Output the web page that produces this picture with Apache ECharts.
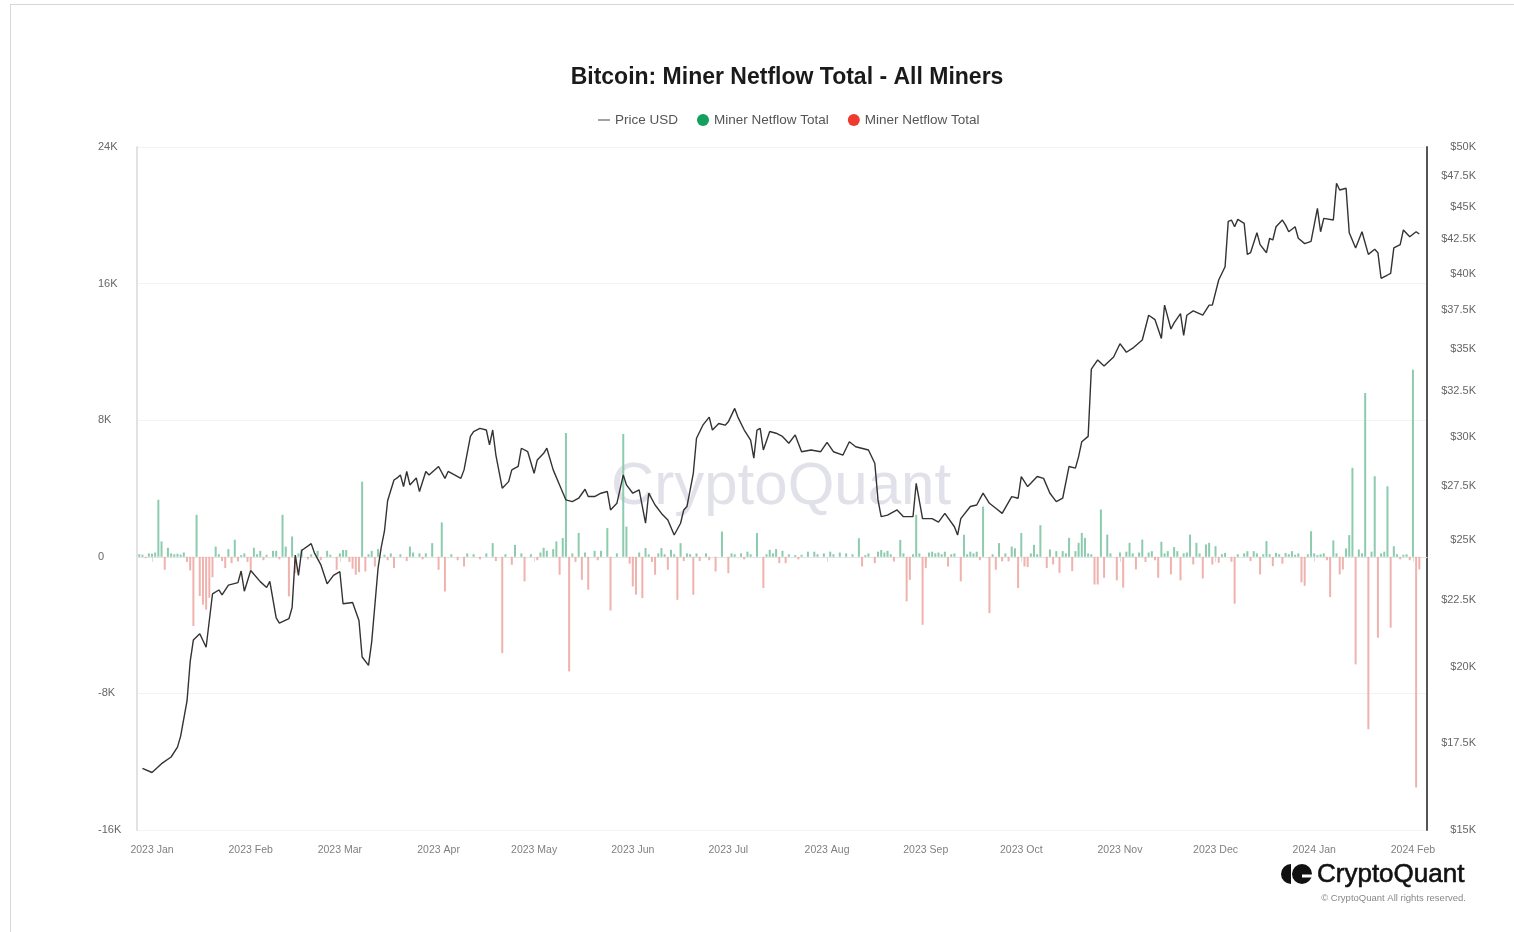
<!DOCTYPE html>
<html>
<head>
<meta charset="utf-8">
<title>Bitcoin: Miner Netflow Total - All Miners</title>
<script src="https://cdn.jsdelivr.net/npm/echarts@6.0.0/dist/echarts.min.js"></script>
<style>
  html, body { margin: 0; padding: 0; background: #fff; overflow: hidden; }
  #frame { position: absolute; left: 10px; top: 4px; width: 1520px; height: 940px; border: 1px solid #d6d6d6; box-sizing: border-box; }
  #chart { position: absolute; left: 0; top: 0; width: 1514px; height: 932px; }
</style>
</head>
<body>
<div id="frame"></div>
<div id="chart"></div>
<script>
// month ticks on the bottom axis
const monthTicks = ['2023-01-01', '2023-02-01', '2023-03-01', '2023-04-01', '2023-05-01', '2023-06-01',
  '2023-07-01', '2023-08-01', '2023-09-01', '2023-10-01', '2023-11-01', '2023-12-01', '2024-01-01', '2024-02-01'];
const monthNames = ['Jan', 'Feb', 'Mar', 'Apr', 'May', 'Jun', 'Jul', 'Aug', 'Sep', 'Oct', 'Nov', 'Dec'];

// right axis (log) labels
const priceTicks = [15000, 17500, 20000, 22500, 25000, 27500, 30000, 32500, 35000, 37500, 40000, 42500, 45000, 47500, 50000];

// BTC price (USD)
const price = [
  ['2022-12-29', 16720], ['2023-01-01', 16600], ['2023-01-04', 16860], ['2023-01-07', 17060],
  ['2023-01-09', 17360], ['2023-01-10', 17700], ['2023-01-12', 18830], ['2023-01-13', 20190],
  ['2023-01-14', 20970], ['2023-01-16', 21200], ['2023-01-18', 20700], ['2023-01-20', 22740],
  ['2023-01-22', 22900], ['2023-01-23', 22700], ['2023-01-25', 23100], ['2023-01-28', 23200],
  ['2023-01-29', 23680], ['2023-01-30', 22850], ['2023-02-01', 23700], ['2023-02-04', 23240],
  ['2023-02-06', 23000], ['2023-02-07', 23250], ['2023-02-09', 21800], ['2023-02-10', 21600],
  ['2023-02-13', 21770], ['2023-02-14', 22200], ['2023-02-15', 24350], ['2023-02-16', 23500],
  ['2023-02-17', 24550], ['2023-02-20', 24850], ['2023-02-21', 24450], ['2023-02-23', 23950],
  ['2023-02-25', 23150], ['2023-02-27', 23500], ['2023-03-01', 23650], ['2023-03-02', 22350],
  ['2023-03-05', 22400], ['2023-03-07', 21700], ['2023-03-08', 20350], ['2023-03-10', 20050],
  ['2023-03-11', 20900], ['2023-03-12', 22300], ['2023-03-13', 23800], ['2023-03-14', 24700],
  ['2023-03-15', 25400], ['2023-03-16', 26800], ['2023-03-17', 27300], ['2023-03-18', 27800],
  ['2023-03-19', 27900], ['2023-03-20', 28050], ['2023-03-21', 27480], ['2023-03-22', 28220],
  ['2023-03-23', 27560], ['2023-03-25', 27900], ['2023-03-26', 27240], ['2023-03-28', 28220],
  ['2023-03-29', 28050], ['2023-04-01', 28470], ['2023-04-03', 27880], ['2023-04-04', 28220],
  ['2023-04-08', 27880], ['2023-04-09', 28300], ['2023-04-11', 30020], ['2023-04-12', 30280],
  ['2023-04-14', 30450], ['2023-04-16', 30360], ['2023-04-17', 29570], ['2023-04-18', 30360],
  ['2023-04-19', 29050], ['2023-04-21', 27400], ['2023-04-23', 27720], ['2023-04-24', 28300],
  ['2023-04-26', 28470], ['2023-04-27', 29400], ['2023-04-29', 29220], ['2023-05-01', 28130],
  ['2023-05-02', 28800], ['2023-05-04', 29140], ['2023-05-05', 29400], ['2023-05-07', 28300],
  ['2023-05-09', 27560], ['2023-05-11', 26840], ['2023-05-13', 26760], ['2023-05-15', 26920],
  ['2023-05-17', 27350], ['2023-05-18', 27000], ['2023-05-20', 27000], ['2023-05-22', 27160],
  ['2023-05-24', 27240], ['2023-05-25', 26370], ['2023-05-27', 26680], ['2023-05-29', 28050],
  ['2023-05-30', 27560], ['2023-06-01', 27160], ['2023-06-03', 27320], ['2023-06-05', 25760],
  ['2023-06-06', 27160], ['2023-06-08', 26600], ['2023-06-10', 26210], ['2023-06-12', 25910],
  ['2023-06-14', 25230], ['2023-06-16', 25760], ['2023-06-17', 26370], ['2023-06-18', 26530],
  ['2023-06-20', 28130], ['2023-06-21', 29920], ['2023-06-23', 30620], ['2023-06-25', 31060],
  ['2023-06-26', 30360], ['2023-06-28', 30710], ['2023-06-30', 30620], ['2023-07-01', 30800],
  ['2023-07-03', 31540], ['2023-07-04', 31060], ['2023-07-06', 30360], ['2023-07-08', 29830],
  ['2023-07-09', 28890], ['2023-07-10', 30360], ['2023-07-11', 30450], ['2023-07-12', 29310],
  ['2023-07-14', 30280], ['2023-07-16', 30190], ['2023-07-18', 30020], ['2023-07-20', 29660],
  ['2023-07-22', 30100], ['2023-07-24', 29220], ['2023-07-27', 29310], ['2023-07-30', 29220],
  ['2023-08-01', 29710], ['2023-08-03', 29220], ['2023-08-06', 29050], ['2023-08-08', 29740],
  ['2023-08-10', 29480], ['2023-08-14', 29310], ['2023-08-16', 28630], ['2023-08-17', 26840],
  ['2023-08-18', 26060], ['2023-08-20', 26130], ['2023-08-23', 26370], ['2023-08-25', 26060],
  ['2023-08-28', 26060], ['2023-08-29', 27640], ['2023-08-31', 25970], ['2023-09-03', 25970],
  ['2023-09-05', 25810], ['2023-09-07', 26210], ['2023-09-10', 25600], ['2023-09-11', 25230],
  ['2023-09-12', 25970], ['2023-09-15', 26530], ['2023-09-17', 26600], ['2023-09-19', 27160],
  ['2023-09-21', 26680], ['2023-09-23', 26450], ['2023-09-25', 26210], ['2023-09-28', 27000],
  ['2023-09-30', 26920], ['2023-10-01', 27970], ['2023-10-03', 27480], ['2023-10-04', 27640],
  ['2023-10-06', 27970], ['2023-10-08', 27880], ['2023-10-10', 27160], ['2023-10-12', 26760],
  ['2023-10-14', 26920], ['2023-10-16', 28470], ['2023-10-18', 28390], ['2023-10-19', 28970],
  ['2023-10-20', 29740], ['2023-10-22', 30020], ['2023-10-23', 33800], ['2023-10-25', 34350],
  ['2023-10-27', 33980], ['2023-10-30', 34530], ['2023-11-01', 35350], ['2023-11-03', 34820],
  ['2023-11-05', 35070], ['2023-11-08', 35580], ['2023-11-10', 37170], ['2023-11-12', 36880],
  ['2023-11-14', 35680], ['2023-11-15', 37840], ['2023-11-17', 36280], ['2023-11-18', 36670],
  ['2023-11-20', 37270], ['2023-11-21', 35870], ['2023-11-22', 37170], ['2023-11-24', 37460],
  ['2023-11-27', 37170], ['2023-11-29', 37840], ['2023-11-30', 37840], ['2023-12-02', 39550],
  ['2023-12-04', 40480], ['2023-12-05', 43860], ['2023-12-06', 43960], ['2023-12-07', 43440],
  ['2023-12-08', 44010], ['2023-12-10', 43700], ['2023-12-11', 41380], ['2023-12-12', 41500],
  ['2023-12-14', 42990], ['2023-12-15', 42100], ['2023-12-17', 41500], ['2023-12-18', 42570],
  ['2023-12-19', 42440], ['2023-12-20', 43440], ['2023-12-22', 43960], ['2023-12-23', 43570],
  ['2023-12-24', 43060], ['2023-12-26', 43440], ['2023-12-27', 42570], ['2023-12-29', 42170],
  ['2023-12-31', 42340], ['2024-01-02', 44870], ['2024-01-03', 43060], ['2024-01-04', 44090],
  ['2024-01-07', 43960], ['2024-01-08', 46910], ['2024-01-09', 46350], ['2024-01-11', 46490],
  ['2024-01-12', 42990], ['2024-01-14', 41850], ['2024-01-16', 43060], ['2024-01-18', 41380],
  ['2024-01-20', 41750], ['2024-01-21', 41500], ['2024-01-22', 39670], ['2024-01-24', 39900],
  ['2024-01-25', 40020], ['2024-01-26', 41850], ['2024-01-28', 42100], ['2024-01-29', 43200],
  ['2024-01-31', 42680], ['2024-02-02', 43060], ['2024-02-03', 42890]
];

// daily miner netflow (BTC)
const netflow = [
  ['2022-12-28', 150], ['2022-12-29', 120], ['2022-12-30', -80], ['2022-12-31', 200],
  ['2023-01-01', 180], ['2023-01-02', 250], ['2023-01-03', 3340], ['2023-01-04', 900],
  ['2023-01-05', -760], ['2023-01-06', 530], ['2023-01-07', 200], ['2023-01-08', 150],
  ['2023-01-09', 180], ['2023-01-10', 130], ['2023-01-11', 250], ['2023-01-12', -300],
  ['2023-01-13', -800], ['2023-01-14', -4050], ['2023-01-15', 2460], ['2023-01-16', -2300],
  ['2023-01-17', -2800], ['2023-01-18', -3100], ['2023-01-19', -2400], ['2023-01-20', -1200],
  ['2023-01-21', 600], ['2023-01-22', 150], ['2023-01-23', -250], ['2023-01-24', -660],
  ['2023-01-25', 450], ['2023-01-26', -370], ['2023-01-27', 1000], ['2023-01-28', -270],
  ['2023-01-29', 100], ['2023-01-30', 200], ['2023-01-31', -300], ['2023-02-01', -760],
  ['2023-02-02', 530], ['2023-02-03', 150], ['2023-02-04', 350], ['2023-02-05', -200],
  ['2023-02-06', 120], ['2023-02-08', 350], ['2023-02-09', 350], ['2023-02-10', -150],
  ['2023-02-11', 2460], ['2023-02-12', 600], ['2023-02-13', -2320], ['2023-02-14', 1190],
  ['2023-02-15', -960], ['2023-02-16', 200], ['2023-02-17', 450], ['2023-02-19', -150],
  ['2023-02-20', 150], ['2023-02-22', 350], ['2023-02-23', -200], ['2023-02-25', 350],
  ['2023-02-26', 120], ['2023-02-28', -760], ['2023-03-01', 200], ['2023-03-02', 400],
  ['2023-03-03', 400], ['2023-03-04', -300], ['2023-03-05', -700], ['2023-03-06', -1050],
  ['2023-03-07', -900], ['2023-03-08', 4400], ['2023-03-09', -860], ['2023-03-10', 150],
  ['2023-03-11', 350], ['2023-03-12', -570], ['2023-03-13', 450], ['2023-03-15', 120],
  ['2023-03-16', -200], ['2023-03-17', 200], ['2023-03-18', -660], ['2023-03-20', 150],
  ['2023-03-22', -250], ['2023-03-23', 600], ['2023-03-24', 250], ['2023-03-26', 200],
  ['2023-03-27', -150], ['2023-03-28', 200], ['2023-03-30', 800], ['2023-04-01', -760],
  ['2023-04-02', 2010], ['2023-04-03', -2030], ['2023-04-05', 150], ['2023-04-07', -200],
  ['2023-04-09', -570], ['2023-04-10', 200], ['2023-04-12', 150], ['2023-04-14', -150],
  ['2023-04-16', 200], ['2023-04-18', 800], ['2023-04-19', -250], ['2023-04-21', -5640],
  ['2023-04-22', 150], ['2023-04-24', -470], ['2023-04-25', 700], ['2023-04-27', 200],
  ['2023-04-28', -1440], ['2023-04-30', 150], ['2023-05-02', -200], ['2023-05-03', 250],
  ['2023-05-04', 530], ['2023-05-05', 350], ['2023-05-07', 450], ['2023-05-08', 900],
  ['2023-05-09', -1050], ['2023-05-10', 1100], ['2023-05-11', 7250], ['2023-05-12', -6710],
  ['2023-05-13', 200], ['2023-05-14', -300], ['2023-05-15', 1400], ['2023-05-16', -1350],
  ['2023-05-17', 250], ['2023-05-18', -1930], ['2023-05-20', 350], ['2023-05-21', -200],
  ['2023-05-22', 350], ['2023-05-24', 1680], ['2023-05-25', -3150], ['2023-05-27', 200],
  ['2023-05-29', 7200], ['2023-05-30', 1770], ['2023-05-31', -400], ['2023-06-01', -1740],
  ['2023-06-02', -2220], ['2023-06-03', 250], ['2023-06-04', -2420], ['2023-06-05', 510],
  ['2023-06-06', 150], ['2023-06-07', -300], ['2023-06-08', -1050], ['2023-06-09', 200],
  ['2023-06-10', 510], ['2023-06-11', 150], ['2023-06-12', -760], ['2023-06-13', 410],
  ['2023-06-14', 150], ['2023-06-15', -2520], ['2023-06-16', 800], ['2023-06-17', -250],
  ['2023-06-18', 200], ['2023-06-19', 150], ['2023-06-20', -2220], ['2023-06-21', 200],
  ['2023-06-22', -250], ['2023-06-24', 200], ['2023-06-25', -200], ['2023-06-27', -860],
  ['2023-06-29', 1480], ['2023-07-01', -960], ['2023-07-02', 200], ['2023-07-03', 150],
  ['2023-07-05', 200], ['2023-07-06', -150], ['2023-07-07', 300], ['2023-07-08', 150],
  ['2023-07-10', 1390], ['2023-07-12', -1830], ['2023-07-13', 150], ['2023-07-14', 410],
  ['2023-07-15', 200], ['2023-07-16', 450], ['2023-07-17', -370], ['2023-07-18', 350],
  ['2023-07-19', -370], ['2023-07-20', 150], ['2023-07-22', 100], ['2023-07-23', -150],
  ['2023-07-24', 120], ['2023-07-26', 300], ['2023-07-28', 300], ['2023-07-29', 150],
  ['2023-07-31', 200], ['2023-08-02', 300], ['2023-08-03', 150], ['2023-08-05', 250],
  ['2023-08-07', 200], ['2023-08-09', 150], ['2023-08-11', 1090], ['2023-08-12', -570],
  ['2023-08-13', 100], ['2023-08-14', 200], ['2023-08-16', -370], ['2023-08-17', 300],
  ['2023-08-18', 400], ['2023-08-19', 250], ['2023-08-20', 350], ['2023-08-21', 150],
  ['2023-08-22', -270], ['2023-08-24', 990], ['2023-08-25', 200], ['2023-08-26', -2610],
  ['2023-08-27', -1350], ['2023-08-28', 150], ['2023-08-29', 2460], ['2023-08-30', 200],
  ['2023-08-31', -3980], ['2023-09-01', -660], ['2023-09-02', 250], ['2023-09-03', 300],
  ['2023-09-04', 200], ['2023-09-05', 250], ['2023-09-06', 150], ['2023-09-07', 300],
  ['2023-09-08', -570], ['2023-09-09', 150], ['2023-09-10', 200], ['2023-09-12', -1440],
  ['2023-09-13', 1290], ['2023-09-14', 150], ['2023-09-15', 300], ['2023-09-16', 200],
  ['2023-09-17', 300], ['2023-09-18', -200], ['2023-09-19', 2940], ['2023-09-21', -3300],
  ['2023-09-22', 150], ['2023-09-23', -760], ['2023-09-24', 800], ['2023-09-25', -270],
  ['2023-09-26', 200], ['2023-09-27', -270], ['2023-09-28', 600], ['2023-09-29', 500],
  ['2023-09-30', -1830], ['2023-10-01', 1390], ['2023-10-02', -570], ['2023-10-03', -600],
  ['2023-10-04', 200], ['2023-10-05', 700], ['2023-10-06', 150], ['2023-10-07', 1850],
  ['2023-10-09', -660], ['2023-10-10', 430], ['2023-10-11', -450], ['2023-10-12', 330],
  ['2023-10-13', -940], ['2023-10-14', 330], ['2023-10-15', 200], ['2023-10-16', 1110],
  ['2023-10-17', -840], ['2023-10-18', 330], ['2023-10-19', 820], ['2023-10-20', 1400],
  ['2023-10-21', 1110], ['2023-10-22', 200], ['2023-10-23', 150], ['2023-10-24', -1620],
  ['2023-10-25', -1620], ['2023-10-26', 2770], ['2023-10-27', -1230], ['2023-10-28', 1300],
  ['2023-10-29', 200], ['2023-10-31', -1380], ['2023-11-01', 250], ['2023-11-02', -1810],
  ['2023-11-03', 300], ['2023-11-04', 820], ['2023-11-05', 200], ['2023-11-06', -740],
  ['2023-11-07', 250], ['2023-11-08', 1010], ['2023-11-09', -300], ['2023-11-10', 250],
  ['2023-11-11', 330], ['2023-11-12', -200], ['2023-11-13', -1230], ['2023-11-14', 880],
  ['2023-11-15', 200], ['2023-11-16', 330], ['2023-11-17', -1030], ['2023-11-18', 570],
  ['2023-11-19', 330], ['2023-11-20', -1380], ['2023-11-21', 200], ['2023-11-22', 250],
  ['2023-11-23', 1300], ['2023-11-24', -450], ['2023-11-25', 820], ['2023-11-26', 200],
  ['2023-11-27', -1270], ['2023-11-28', 720], ['2023-11-29', 820], ['2023-11-30', -450],
  ['2023-12-01', 620], ['2023-12-02', -350], ['2023-12-03', 150], ['2023-12-04', 230],
  ['2023-12-06', -290], ['2023-12-07', -2750], ['2023-12-08', 150], ['2023-12-10', 200],
  ['2023-12-11', 330], ['2023-12-12', -250], ['2023-12-13', 330], ['2023-12-14', 200],
  ['2023-12-15', -1030], ['2023-12-16', 150], ['2023-12-17', 920], ['2023-12-18', 150],
  ['2023-12-19', -550], ['2023-12-20', 230], ['2023-12-21', 150], ['2023-12-22', -400],
  ['2023-12-23', 230], ['2023-12-24', 150], ['2023-12-25', 330], ['2023-12-26', 120],
  ['2023-12-27', 200], ['2023-12-28', -1500], ['2023-12-29', -1700], ['2023-12-30', 150],
  ['2023-12-31', 1500], ['2024-01-01', 200], ['2024-01-02', 100], ['2024-01-03', 150],
  ['2024-01-04', 200], ['2024-01-05', -200], ['2024-01-06', -2360], ['2024-01-07', 960],
  ['2024-01-08', 200], ['2024-01-09', -1030], ['2024-01-10', -740], ['2024-01-11', 490],
  ['2024-01-12', 1270], ['2024-01-13', 5210], ['2024-01-14', -6300], ['2024-01-15', 430],
  ['2024-01-16', 200], ['2024-01-17', 9590], ['2024-01-18', -10100], ['2024-01-19', 300],
  ['2024-01-20', 4720], ['2024-01-21', -4740], ['2024-01-22', 200], ['2024-01-23', 300],
  ['2024-01-24', 4130], ['2024-01-25', -4150], ['2024-01-26', 620], ['2024-01-27', 150],
  ['2024-01-28', -150], ['2024-01-29', 120], ['2024-01-30', 150], ['2024-01-31', -200],
  ['2024-02-01', 10960], ['2024-02-02', -13510], ['2024-02-03', -740]
];

// 'YYYY-MM-DD' -> timestamp
function ts(s, h) {
  const [y, m, d] = s.split('-').map(Number);
  return new Date(y, m - 1, d, h || 0).getTime();
}

const tickValues = monthTicks.map(s => ts(s));
const priceData = price.map(d => [ts(d[0]), d[1]]);
const inflow = netflow.filter(d => d[1] > 0).map(d => [ts(d[0]), d[1]]);
const outflow = netflow.filter(d => d[1] < 0).map(d => [ts(d[0]), d[1]]);

const font = '"Liberation Sans", Arial, sans-serif';

const chart = echarts.init(document.getElementById('chart'));

const option = {
  animation: false,
  backgroundColor: 'transparent',
  textStyle: { fontFamily: font },
  title: {
    text: 'Bitcoin: Miner Netflow Total - All Miners',
    left: 782,
    top: 61,
    textAlign: 'center',
    textStyle: { fontSize: 23, fontWeight: 'bold', color: '#1a1a1a', fontFamily: font }
  },
  legend: {
    left: 593,
    top: 108,
    itemWidth: 12,
    itemHeight: 12,
    itemGap: 19,
    textStyle: { fontSize: 13.5, color: '#555', fontFamily: font },
    formatter: name => name.trim(),
    data: [
      { name: 'Price USD', icon: 'path://M0,0H14V1.6H0Z', itemStyle: { color: '#777' } },
      { name: 'Miner Netflow Total', icon: 'circle', itemStyle: { color: '#13a05c' } },
      { name: 'Miner Netflow Total ', icon: 'circle', itemStyle: { color: '#ee3a2f' } }
    ]
  },
  grid: { left: 137, right: 87, top: 147, bottom: 102 },
  xAxis: {
    // timestamps on a plain value axis, month ticks given explicitly
    type: 'value',
    min: ts('2022-12-27', 7),
    max: ts('2024-02-05', 10),
    axisLine: { show: true, lineStyle: { color: '#e4e4e4' } },
    axisTick: { show: true, customValues: tickValues, length: 5, lineStyle: { color: '#dcdcdc' } },
    axisLabel: {
      customValues: tickValues,
      color: '#808080',
      fontSize: 10.5,
      margin: 15,
      formatter: v => {
        const d = new Date(v);
        return d.getFullYear() + ' ' + monthNames[d.getMonth()];
      }
    },
    splitLine: { show: false }
  },
  yAxis: [
    {
      type: 'value',
      position: 'left',
      min: -16000,
      max: 24000,
      interval: 8000,
      axisLine: { show: true, lineStyle: { color: '#e2e2e2', width: 2 } },
      axisTick: { show: false },
      axisLabel: {
        align: 'left',
        margin: 39,
        color: '#666',
        fontSize: 11,
        formatter: v => (v === 0 ? '0' : v / 1000 + 'K')
      },
      splitLine: { lineStyle: { color: '#f3f3f3' } }
    },
    {
      type: 'log',
      logBase: 10,
      position: 'right',
      min: 15000,
      max: 50000,
      axisLine: { show: true, lineStyle: { color: '#555', width: 2 } },
      axisTick: { show: false },
      axisLabel: {
        customValues: priceTicks,
        align: 'right',
        margin: 49,
        color: '#666',
        fontSize: 11,
        formatter: v => '$' + +(v / 1000).toFixed(1) + 'K'
      },
      splitLine: { show: false }
    }
  ],
  graphic: [
    {
      type: 'text',
      x: 781,
      y: 487,
      z: 0,
      silent: true,
      style: {
        text: 'CryptoQuant',
        font: '60px ' + font,
        fill: '#e1e1ea',
        align: 'center',
        verticalAlign: 'middle'
      }
    },
    {
      type: 'sector',
      shape: { cx: 1291, cy: 874, r: 10, r0: 0, startAngle: Math.PI / 2, endAngle: Math.PI * 1.5 },
      style: { fill: '#111' }
    },
    {
      type: 'circle',
      shape: { cx: 1302, cy: 874, r: 10 },
      style: { fill: '#111' }
    },
    {
      type: 'rect',
      shape: { x: 1302, y: 874.5, width: 11, height: 3 },
      style: { fill: '#fff' }
    },
    {
      type: 'text',
      x: 1317,
      y: 875,
      style: {
        text: 'CryptoQuant',
        font: '26px ' + font,
        fill: '#111',
        stroke: '#111',
        lineWidth: 0.6,
        align: 'left',
        verticalAlign: 'middle'
      }
    },
    {
      type: 'text',
      x: 1466,
      y: 898,
      style: {
        text: '© CryptoQuant All rights reserved.',
        font: '9.5px ' + font,
        fill: '#888',
        align: 'right',
        verticalAlign: 'middle'
      }
    }
  ],
  series: [
    {
      name: 'Miner Netflow Total',
      type: 'bar',
      yAxisIndex: 0,
      data: inflow,
      barWidth: 2,
      barGap: '-100%',
      itemStyle: { color: '#8ccbae' }
    },
    {
      name: 'Miner Netflow Total ',
      type: 'bar',
      yAxisIndex: 0,
      data: outflow,
      barWidth: 2,
      barGap: '-100%',
      itemStyle: { color: '#f0b2ad' }
    },
    {
      name: 'Price USD',
      type: 'line',
      yAxisIndex: 1,
      data: priceData,
      showSymbol: false,
      smooth: false,
      lineStyle: { color: '#333', width: 1.4 },
      itemStyle: { color: '#555' },
      z: 5
    }
  ]
};

chart.setOption(option);
</script>
</body>
</html>
